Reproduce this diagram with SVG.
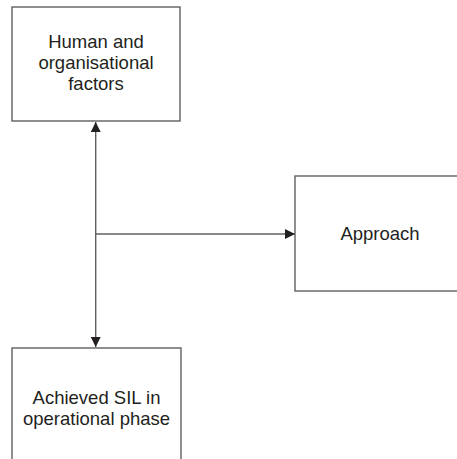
<svg xmlns="http://www.w3.org/2000/svg" width="457" height="459" viewBox="0 0 457 459">
<style>
.box{fill:#fff;stroke:#606060;stroke-width:1.4}
.lbl{font-family:"Liberation Sans",Arial,sans-serif;font-size:18.5px;fill:#231f20;text-anchor:middle}
.con{stroke:#606060;stroke-width:1.4;fill:none}
</style>
<defs>
<marker id="ah" viewBox="0 0 10 10" refX="10" refY="5" markerWidth="10" markerHeight="10" markerUnits="userSpaceOnUse" orient="auto-start-reverse">
<path d="M0,0 L10,5 L0,10 Z" fill="#231f20"/>
</marker>
</defs>
<rect width="457" height="459" fill="#fff"/>
<g id="n1">
<rect class="box" x="12" y="7" width="168" height="114"/>
<text class="lbl" x="96" y="48">Human and</text>
<text class="lbl" x="96" y="69">organisational</text>
<text class="lbl" x="96" y="90">factors</text>
</g>
<g id="n2">
<rect class="box" x="295" y="176" width="180" height="115"/>
<text class="lbl" x="380" y="240">Approach</text>
</g>
<g id="n3">
<rect class="box" x="12" y="348" width="169" height="130"/>
<text class="lbl" x="96.5" y="404">Achieved SIL in</text>
<text class="lbl" x="96.5" y="425">operational phase</text>
</g>
<g id="connectors">
<path class="con" d="M95.7,347 L95.7,122" marker-start="url(#ah)" marker-end="url(#ah)"/>
<path class="con" d="M95.7,234 L295,234" marker-end="url(#ah)"/>
</g>
</svg>
